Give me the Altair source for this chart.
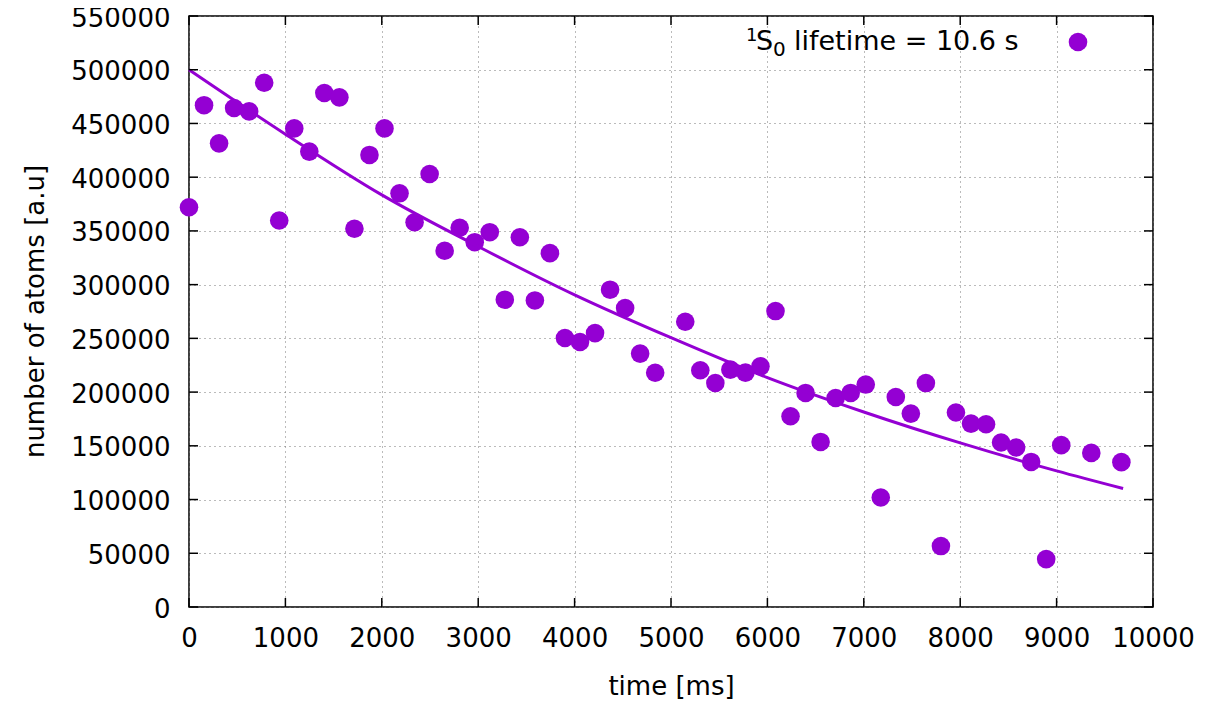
import altair as alt
import pandas as pd

# measured data points
time_ms = [0, 156, 312, 468, 624, 780, 936, 1092, 1248, 1404, 1560, 1716, 1872, 2028,
           2184, 2340, 2496, 2652, 2808, 2964, 3120, 3276, 3432, 3588, 3744, 3900,
           4056, 4212, 4368, 4524, 4680, 4836, 5148, 5304, 5460, 5616, 5772, 5928,
           6084, 6240, 6396, 6552, 6708, 6864, 7020, 7176, 7332, 7488, 7644, 7800,
           7956, 8112, 8268, 8424, 8580, 8736, 8892, 9048, 9360, 9672]
atoms = [372000, 467000, 431500, 464400, 461200, 487900, 359700, 445400, 423800, 478300,
         474300, 352000, 420700, 445400, 385000, 358100, 403000, 331500, 352900, 339500,
         348800, 286000, 344100, 285300, 329300, 250300, 246600, 254900, 295300, 278200,
         235800, 218000, 265500, 220300, 208500, 220900, 218100, 224000, 275400, 177500,
         199200, 153600, 194500, 199200, 207000, 101900, 195400, 180000, 208400, 56700,
         181000, 170700, 170100, 153100, 148400, 135000, 44600, 150600, 143400, 134800]

# fitted curve
fit_t = [0, 1000, 2000, 3000, 4000, 5000, 6000, 7000, 8000, 9000, 9690]
fit_v = [500000, 440000, 383500, 335500, 290500, 250600, 213500, 181500, 152700, 126700, 110300]

x_ticks = [0, 1000, 2000, 3000, 4000, 5000, 6000, 7000, 8000, 9000, 10000]
y_ticks = [0, 50000, 100000, 150000, 200000, 250000, 300000, 350000, 400000, 450000,
           500000, 550000]

# legend pieces: superscript, main letter, subscript, rest
legend_sup = ["1"]
legend_main = ["S"]
legend_sub = ["0"]
legend_rest = ["lifetime = 10.6 s"]

W, H = 964, 591
COLOR = "#9400D3"
FONT = "DejaVu Sans"
FS = 26

pts = pd.DataFrame({"t": time_ms, "n": atoms})
fit = pd.DataFrame({"t": fit_t, "n": fit_v})
xt = pd.DataFrame({"v": x_ticks})
yt = pd.DataFrame({"v": y_ticks})

xscale = alt.Scale(domain=[0, 10000], nice=False, zero=False)
yscale = alt.Scale(domain=[0, 550000], nice=False, zero=False)

xaxis = alt.Axis(values=x_ticks, format="d", title="time [ms]", grid=True,
                 ticks=False, tickSize=0, domain=False, labelPadding=18,
                 titleX=W / 2, titleY=686 - 16 - H, titleBaseline="middle",
                 labelFlush=False)
yaxis = alt.Axis(values=y_ticks, format="d", title="number of atoms [a.u]", grid=True,
                 ticks=False, tickSize=0, domain=False, labelPadding=19, labelOffset=2,
                 titleX=35 - 189, titleY=311 - 16, titleBaseline="middle",
                 labelFlush=False)

points = alt.Chart(pts).mark_circle(size=346, opacity=1, color=COLOR).encode(
    x=alt.X("t:Q", scale=xscale, axis=xaxis),
    y=alt.Y("n:Q", scale=yscale, axis=yaxis),
)

line = alt.Chart(fit).mark_line(color=COLOR, strokeWidth=3, interpolate="monotone").encode(
    x=alt.X("t:Q", scale=xscale),
    y=alt.Y("n:Q", scale=yscale),
)

tick_style = dict(color="black", strokeWidth=1.5)
left_ticks = alt.Chart(yt).mark_rule(**tick_style).encode(
    y=alt.Y("v:Q", scale=yscale), x=alt.value(0), x2=alt.value(9))
right_ticks = alt.Chart(yt).mark_rule(**tick_style).encode(
    y=alt.Y("v:Q", scale=yscale), x=alt.value(W - 9), x2=alt.value(W))
bottom_ticks = alt.Chart(xt).mark_rule(**tick_style).encode(
    x=alt.X("v:Q", scale=xscale), y=alt.value(H), y2=alt.value(H - 9))
top_ticks = alt.Chart(xt).mark_rule(**tick_style).encode(
    x=alt.X("v:Q", scale=xscale), y=alt.value(0), y2=alt.value(9))


def leg_piece(texts, x, y, size):
    return alt.Chart(pd.DataFrame({"label": texts})).mark_text(
        align="left", baseline="middle", font=FONT, fontSize=size, color="black"
    ).encode(text="label:N", x=alt.value(x), y=alt.value(y))


leg_sup = leg_piece(legend_sup, 557, 19.5, 18)
leg_main = leg_piece(legend_main, 567, 25.5, 27)
leg_sub = leg_piece(legend_sub, 584, 34, 20)
leg_rest = leg_piece(legend_rest, 605, 25.5, 27)
leg_dot = alt.Chart(pd.DataFrame({"label": legend_rest})).mark_circle(
    size=346, opacity=1, color=COLOR).encode(x=alt.value(889), y=alt.value(26))

chart = alt.layer(
    points, line, left_ticks, right_ticks, bottom_ticks, top_ticks,
    leg_sup, leg_main, leg_sub, leg_rest, leg_dot
).properties(
    width=W, height=H,
    autosize=alt.AutoSizeParams(type="none"),
    padding={"left": 181, "top": 8, "right": 48, "bottom": 94},
).configure(font=FONT).configure_view(
    stroke="black", strokeWidth=1.5
).configure_axis(
    labelFont=FONT, labelFontSize=FS, labelColor="black",
    titleFont=FONT, titleFontSize=FS, titleColor="black", titleFontWeight="normal",
    gridColor="#777777", gridDash=[1, 4], gridWidth=1,
)

chart.save("out.html", embed_options={"renderer": "svg", "actions": False})
